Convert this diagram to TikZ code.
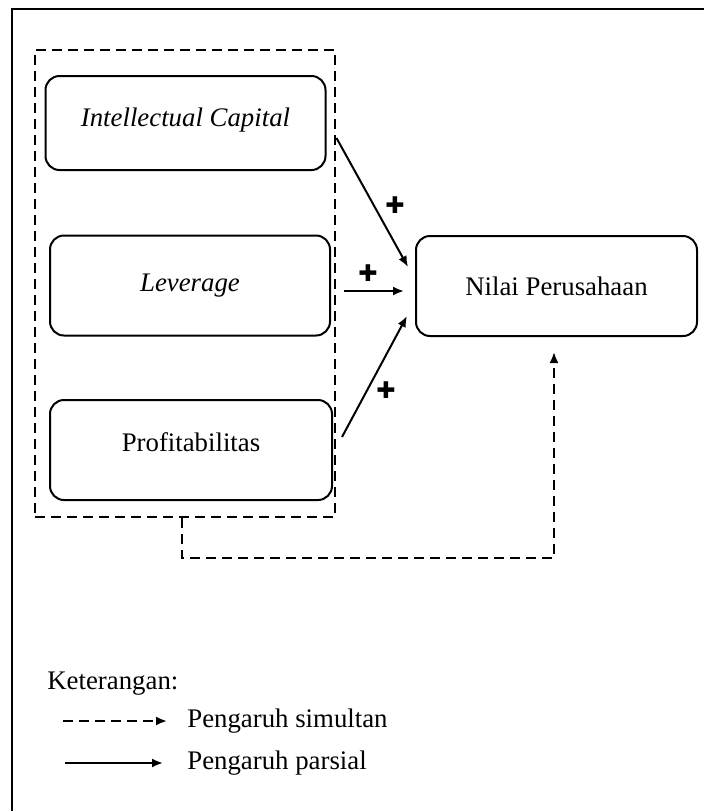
\documentclass[tikz,border=0pt]{standalone}
\usepackage{fontspec}
\setmainfont{Liberation Serif}
\newfontfamily\crossfont{DejaVu Sans}
\usepackage{xcolor}
\definecolor{Black}{RGB}{0,0,0}
\definecolor{White}{RGB}{255,255,255}
\usetikzlibrary{arrows.meta}
\newcommand{\plusmark}{{\crossfont\fontsize{11.5}{11.5}\selectfont ✚}}

\begin{document}
\begin{tikzpicture}[x=0.5pt, y=-0.5pt, font=\fontsize{13.4}{16}\selectfont,
	varbox/.style={draw=Black, line width=1pt, rounded corners=7pt, minimum width=140pt, minimum height=50pt, inner sep=0pt},
	grpbox/.style={draw=Black, line width=1pt, dash pattern=on 5pt off 3pt, minimum width=150pt, minimum height=233.5pt, inner sep=0pt},
	parsial/.style={line width=1pt, -{Latex[length=5.5pt, width=4.5pt]}},
	simul/.style={parsial, dash pattern=on 5pt off 3pt},
	sign/.style={inner sep=0pt, color=Black}]

		% Frame
		\clip (0,0) rectangle (704,811);
		\draw[line width=1.2pt] (12,9) rectangle (720,830);

		% Rectangles
		\node[varbox, minimum height=47pt, text depth=6pt] (ic) 	at (185.5,123) {\textit{Intellectual Capital}};
		\node[varbox] (lev) 	at (190,285.5) {\textit{Leverage}};
		\node[varbox, minimum width=141pt, text depth=8pt] (prof) 	at (191,450) {Profitabilitas};
		\node[varbox, minimum width=140.5pt] (nilai) 	at (556.5,286) {Nilai Perusahaan};
		\node[grpbox] (grp) 	at (185,283.5) {};

		% Lines
		\draw[parsial] ([shift={(10,15)}]ic.east) -- ([shift={(-7,-19)}]nilai.west);
		\draw[parsial] ([shift={(13,5.5)}]lev.east) -- ([shift={(-11,5)}]nilai.west);
		\draw[parsial] ([shift={(9,-13)}]prof.east) -- ([shift={(-8,30)}]nilai.west);

		\coordinate (fblow) at (182,558);
		\coordinate (fbend) at (554,352);
		\draw[simul] (grp.south -| fblow) -- (fblow) -| (fbend);

		% Signs
		\node[sign] (s1) at (395,205) {\plusmark};
		\node[sign] (s2) at (368,273) {\plusmark};
		\node[sign] (s3) at (386,390) {\plusmark};

		% Legend
		\node[anchor=west, inner sep=0pt] (ket) 	at (47,684) {Keterangan:};
		\node[anchor=west, inner sep=0pt] (lsim) 	at (187,721) {Pengaruh simultan};
		\node[anchor=west, inner sep=0pt] (lpar) 	at (187,763) {Pengaruh parsial};
		\draw[simul] ([shift={(-124,0)}]lsim.west) -- ([shift={(-20,0)}]lsim.west);
		\draw[parsial] ([shift={(-122,0)}]lpar.west) -- ([shift={(-24,0)}]lpar.west);

	\end{tikzpicture}
\end{document}
